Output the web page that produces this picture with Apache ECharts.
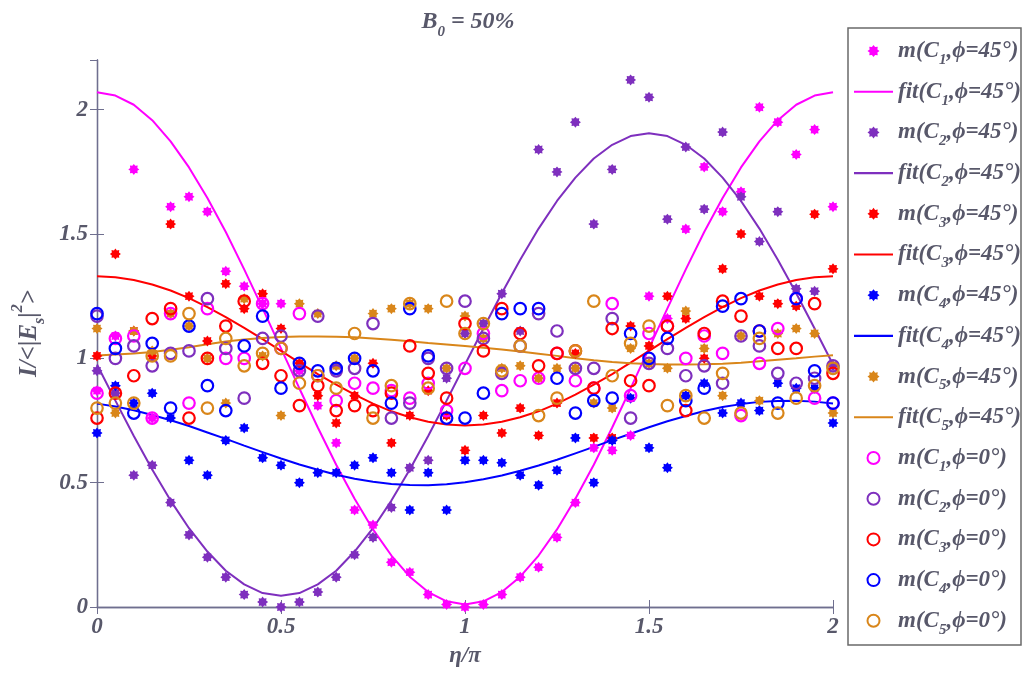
<!DOCTYPE html>
<html>
<head>
<meta charset="utf-8">
<script src="https://cdn.jsdelivr.net/npm/echarts@6/dist/echarts.min.js"></script>
<style>html,body{margin:0;padding:0;background:#fff}#c{width:1023px;height:673px}</style>
</head>
<body>
<div id="c"></div>
<script>
// ---------- data ----------
const eta = [0,0.05,0.1,0.15,0.2,0.25,0.3,0.35,0.4,0.45,0.5,0.55,0.6,0.65,0.7,0.75,0.8,0.85,0.9,0.95,1,
  1.05,1.1,1.15,1.2,1.25,1.3,1.35,1.4,1.45,1.5,1.55,1.6,1.65,1.7,1.75,1.8,1.85,1.9,1.95,2];

const xTicks = [0, 0.5, 1, 1.5, 2];
const yTicks = [0, 0.5, 1, 1.5, 2];

// phi = 45 deg measurements (stars)
const mC1_45 = [0.87,1.09,1.76,0.76,1.61,1.65,1.59,1.35,1.29,1.22,1.22,0.95,0.81,0.66,0.39,0.33,0.18,0.14,0.05,0.01,0.00,
  0.01,0.05,0.12,0.16,0.28,0.42,0.64,0.63,0.69,1.25,1.16,1.52,1.77,1.59,1.67,2.01,1.95,1.82,1.92,1.61];
const mC2_45 = [0.95,0.86,0.53,0.57,0.42,0.29,0.20,0.12,0.05,0.02,0.00,0.02,0.06,0.12,0.21,0.28,0.40,0.56,0.59,0.92,1.10,
  1.14,1.26,1.11,1.84,1.75,1.95,1.54,1.76,2.12,2.05,1.56,1.85,1.60,1.91,1.65,1.47,1.59,1.28,1.27,0.97];
const mC3_45 = [1.01,1.42,1.11,1.01,1.54,1.25,1.07,1.30,1.20,1.26,1.12,0.98,0.85,0.74,0.85,0.98,0.66,0.77,0.87,0.77,0.63,
  0.77,0.70,0.80,0.69,0.82,1.02,0.68,0.68,1.13,1.05,1.25,1.16,1.00,1.36,1.50,1.25,1.22,1.21,1.58,1.36];
const mC4_45 = [0.70,0.89,0.82,0.86,0.76,0.59,0.53,0.67,0.72,0.60,0.57,0.50,0.54,0.54,0.57,0.60,0.54,0.39,0.54,0.39,0.59,
  0.59,0.58,0.53,0.49,0.55,0.68,0.50,0.67,0.84,0.64,0.56,0.85,0.90,0.78,0.82,0.79,0.90,0.88,0.88,0.74];
const mC5_45 = [1.12,0.78,1.11,1.03,1.18,1.13,1.00,0.82,1.24,1.01,0.77,1.22,1.18,0.97,1.00,1.18,1.20,1.22,1.20,0.96,1.17,
  1.08,0.96,0.97,0.92,0.96,0.96,0.82,0.80,1.04,0.98,0.96,1.19,1.04,0.85,1.09,0.83,1.10,1.12,1.10,0.78];

// fits at phi = 45 deg
const fitC1 = [2.070,2.057,2.020,1.958,1.873,1.768,1.645,1.508,1.358,1.201,1.040,0.879,0.722,0.572,0.435,0.312,0.207,0.122,0.060,0.023,0.010,
  0.023,0.060,0.122,0.207,0.312,0.435,0.572,0.722,0.879,1.040,1.201,1.358,1.508,1.645,1.768,1.873,1.958,2.020,2.057,2.070];
const fitC2 = [0.975,0.830,0.688,0.553,0.428,0.317,0.223,0.146,0.091,0.056,0.045,0.056,0.091,0.146,0.223,0.317,0.428,0.553,0.688,0.830,0.975,
  1.120,1.262,1.397,1.522,1.633,1.727,1.804,1.859,1.894,1.905,1.894,1.859,1.804,1.727,1.633,1.522,1.397,1.262,1.120,0.975];
const fitC3 = [1.330,1.326,1.315,1.297,1.273,1.242,1.206,1.166,1.123,1.077,1.030,0.983,0.937,0.894,0.854,0.818,0.787,0.763,0.745,0.734,0.730,
  0.734,0.745,0.763,0.787,0.818,0.854,0.894,0.937,0.983,1.030,1.077,1.123,1.166,1.206,1.242,1.273,1.297,1.315,1.326,1.330];
const fitC4 = [0.818,0.806,0.791,0.772,0.751,0.728,0.702,0.676,0.649,0.623,0.597,0.573,0.552,0.532,0.516,0.504,0.495,0.491,0.490,0.494,0.502,
  0.514,0.529,0.548,0.569,0.592,0.618,0.644,0.671,0.697,0.723,0.747,0.768,0.788,0.804,0.816,0.825,0.829,0.830,0.826,0.818];
const fitC5 = [1.012,1.016,1.020,1.026,1.035,1.045,1.057,1.068,1.076,1.082,1.086,1.088,1.088,1.087,1.085,1.080,1.075,1.069,1.062,1.056,1.050,
  1.043,1.036,1.028,1.019,1.010,1.000,0.992,0.985,0.980,0.977,0.975,0.975,0.976,0.978,0.982,0.988,0.994,1.000,1.007,1.013];

// phi = 0 deg measurements (circles)
const mC1_0 = [0.86,1.08,1.09,0.76,1.18,0.82,1.20,1.00,1.00,1.22,1.04,1.18,0.93,0.83,0.90,0.88,0.87,0.84,0.90,0.79,0.96,
  1.10,0.87,0.91,0.92,1.02,0.91,0.88,1.22,0.85,1.10,1.13,1.00,1.09,1.02,0.77,0.98,1.12,1.24,0.84,0.82];
const mC2_0 = [1.17,1.00,1.05,0.97,1.02,1.03,1.24,1.04,0.84,1.08,1.09,0.95,1.17,0.95,0.96,1.14,0.76,0.82,1.00,0.96,1.23,
  1.08,0.94,1.05,1.18,1.11,0.96,0.96,1.16,0.76,0.98,1.04,0.93,0.97,0.90,1.09,1.05,0.94,0.90,0.92,0.97];
const mC3_0 = [0.76,0.86,0.93,1.16,1.20,0.76,1.00,1.13,1.23,0.98,0.93,0.81,0.89,0.79,0.81,0.79,0.86,1.05,0.94,0.84,1.14,
  1.03,1.20,1.10,0.97,1.02,1.03,0.88,1.12,0.91,0.89,1.13,0.79,1.10,1.23,1.17,1.11,1.04,1.04,1.22,0.94];
const mC4_0 = [1.18,1.04,0.78,1.06,0.80,1.13,0.89,0.79,1.05,1.17,0.88,0.98,0.95,0.96,1.00,0.95,0.82,1.20,1.01,0.76,0.76,
  0.86,1.18,1.20,1.20,0.92,0.78,0.83,0.84,1.10,1.00,1.08,0.83,0.88,1.21,1.24,1.11,0.82,1.24,0.95,0.82];
const mC5_0 = [0.80,0.82,0.82,1.01,1.01,1.18,0.80,1.08,0.97,1.02,1.04,0.90,0.93,0.88,1.10,0.76,0.89,1.22,0.88,1.23,1.10,
  1.14,0.95,1.05,0.77,0.84,1.03,1.23,0.93,1.06,1.13,0.81,0.85,0.76,0.94,0.78,1.08,0.78,0.84,0.89,0.96];

const colors = ['#ff00ff', '#7e2fbe', '#ff0000', '#0000ff', '#d9861a'];
const starSets = [mC1_45, mC2_45, mC3_45, mC4_45, mC5_45];
const fitSets = [fitC1, fitC2, fitC3, fitC4, fitC5];
const circleSets = [mC1_0, mC2_0, mC3_0, mC4_0, mC5_0];

// ---------- chart ----------
const FONT = "'Liberation Serif', 'DejaVu Serif', serif";
const TXT = '#58586a';
const AX = '#6f6f8f';
const STAR = 'path://M100 50 L82.34 63.39 L85.36 85.36 L63.39 82.34 L50 100 L36.61 82.34 L14.64 85.36 L17.66 63.39 L0 50 L17.66 36.61 L14.64 14.64 L36.61 17.66 L50 0 L63.39 17.66 L85.36 14.64 L82.34 36.61 Z';
const LINEICON = 'path://M0 0 H100 V5.5 H0 Z';

function pts(ys) { return ys.map((y, i) => [eta[i], y]); }

const series = [];
const legendData = [];
for (let k = 0; k < 5; k++) {
  const c = colors[k];
  const n1 = 'm(C_' + (k + 1) + ',ϕ=45°)';
  const n2 = 'fit(C_' + (k + 1) + ',ϕ=45°)';
  series.push({
    type: 'scatter', name: n1, data: pts(starSets[k]),
    symbol: STAR, symbolSize: 11, itemStyle: { color: c, opacity: 1 }, z: 3
  });
  series.push({
    type: 'line', name: n2, data: pts(fitSets[k]),
    symbol: 'none', lineStyle: { color: c, width: 2 }, itemStyle: { color: c }, z: 3
  });
  legendData.push({ name: n1 });
  legendData.push({ name: n2, icon: LINEICON });
}
for (let k = 0; k < 5; k++) {
  const c = colors[k];
  const n = 'm(C_' + (k + 1) + ',ϕ=0°)';
  series.push({
    type: 'scatter', name: n, data: pts(circleSets[k]),
    symbol: 'circle', symbolSize: 11.5,
    itemStyle: { color: 'rgba(255,255,255,0)', borderColor: c, borderWidth: 2.2, opacity: 1 }, z: 3
  });
  legendData.push({ name: n });
}

const labStyle = { fontFamily: FONT, fontWeight: 'bold', fontStyle: 'italic', color: TXT };
function sub(fs, h) { return Object.assign({ fontSize: fs, height: h, verticalAlign: 'bottom' }, labStyle); }
function sup(fs, h) { return Object.assign({ fontSize: fs, height: h, verticalAlign: 'top' }, labStyle); }

const chart = echarts.init(document.getElementById('c'));
chart.setOption({
  animation: false,
  backgroundColor: '#fff',
  title: {
    text: 'B{s|0} = 50%',
    left: 463, top: 3, textAlign: 'center',
    textStyle: Object.assign({ fontSize: 24, lineHeight: 28, rich: { s: sub(15, 8) } }, labStyle)
  },
  grid: { left: 97, right: 190, top: 60, bottom: 64 },
  legend: {
    orient: 'vertical', left: 854, top: 38, padding: 0,
    itemWidth: 39, itemHeight: 12, itemGap: 11.2, selectedMode: false,
    data: legendData,
    formatter: n => n.replace(/_(\d)/, '{s|$1}'),
    textStyle: Object.assign({ fontSize: 23, lineHeight: 26, rich: { s: sub(15, 8) } }, labStyle)
  },
  graphic: [{
    type: 'rect', shape: { x: 848, y: 28, width: 173, height: 617 },
    style: { fill: 'none', stroke: '#6a6a6a', lineWidth: 1.5 }, silent: true
  }],
  xAxis: [{
    type: 'value', min: 0, max: 2, interval: 0.5,
    name: 'η/π', nameLocation: 'middle', nameGap: 38,
    nameTextStyle: Object.assign({ fontSize: 23 }, labStyle),
    axisLine: { show: true, lineStyle: { color: AX, width: 1.3 } },
    axisTick: { inside: true, length: 7, lineStyle: { color: AX } },
    splitLine: { show: false },
    axisLabel: Object.assign({ fontSize: 23, margin: 9,
      formatter: v => xTicks.includes(v) ? String(v) : '' }, labStyle)
  }, {
    type: 'value', min: 0, max: 2, interval: 0.5, position: 'top',
    axisLine: { show: true, lineStyle: { color: AX, width: 1.3 } },
    axisTick: { inside: true, length: 7, lineStyle: { color: AX } },
    splitLine: { show: false }, axisLabel: { show: false }
  }],
  yAxis: [{
    type: 'value', min: 0, max: 2.2, interval: 0.5,
    name: 'I/<|E{s|s}|{p|2}>', nameLocation: 'middle', nameGap: 50, nameRotate: 90,
    nameTextStyle: Object.assign({ fontSize: 25, lineHeight: 30,
      rich: { s: sub(16, 8), p: sup(16, 8) } }, labStyle),
    axisLine: { show: true, lineStyle: { color: AX, width: 1.3 } },
    axisTick: { inside: true, length: 7, lineStyle: { color: AX } },
    splitLine: { show: false },
    axisLabel: Object.assign({ fontSize: 23, margin: 9, showMaxLabel: false,
      formatter: v => yTicks.includes(v) ? String(v) : '' }, labStyle)
  }, {
    type: 'value', min: 0, max: 2.2, interval: 0.5, position: 'right',
    axisLine: { show: true, lineStyle: { color: AX, width: 1.3 } },
    axisTick: { inside: true, length: 7, lineStyle: { color: AX } },
    splitLine: { show: false }, axisLabel: { show: false }
  }],
  series: series
});
</script>
</body>
</html>
